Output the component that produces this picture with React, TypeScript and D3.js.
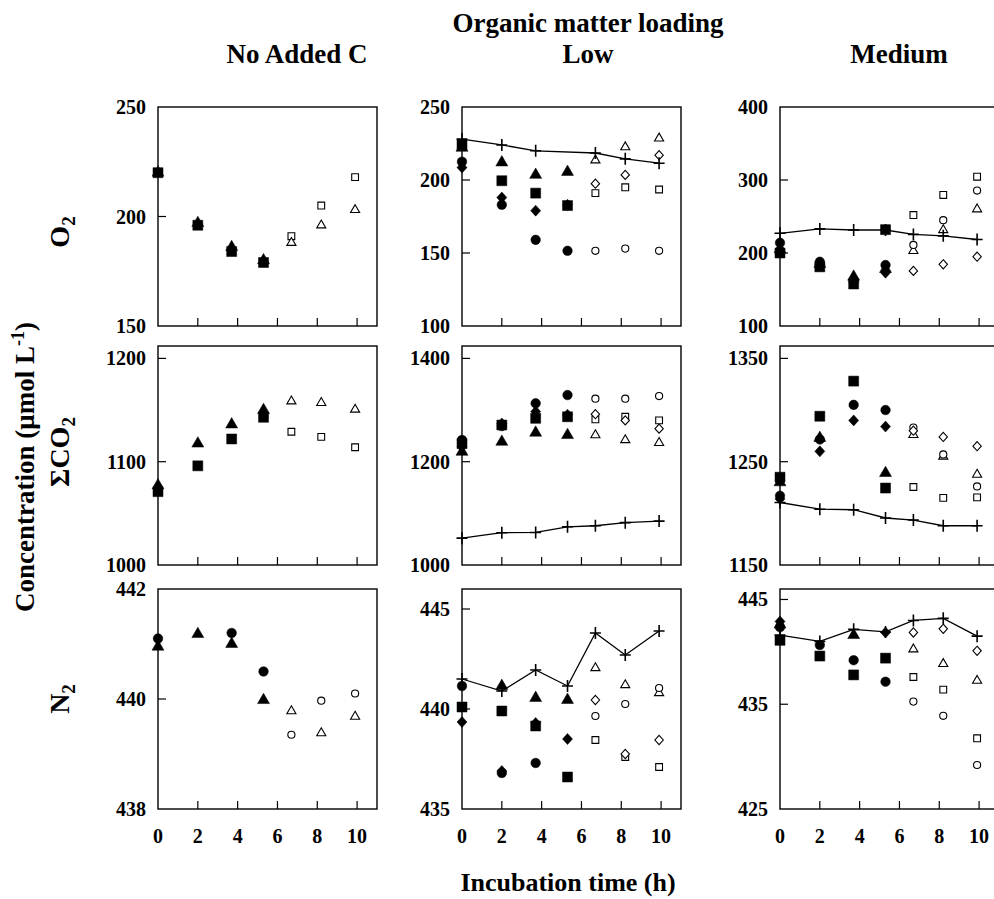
import React, { useEffect, useRef } from "react";
import * as d3 from "d3";

// sampling times (h), shared by every panel
const times = [0, 2, 3.7, 5.3, 6.7, 8.2, 9.9];
const xTicks = [0, 2, 4, 6, 8, 10];
const columnTitles = ["No Added C", "Low", "Medium"];

// O2 - No Added C
const o2NoneSquare = [220, 196, 184, 179, 191, 205, 218];
const o2NoneTriangle = [220, 197, 186, 180, 188, 196, 203];
// O2 - Low
const o2LowSquare = [224, 199.5, 191, 182.5, 191, 195, 193.5];
const o2LowTriangle = [222, 212, 203.5, 205.5, 213.5, 222.5, 228.5];
const o2LowCircle = [212.5, 183, 159, 151.5, 151.5, 153, 151.5];
const o2LowDiamond = [208.5, 188, 179, 183, 197.5, 203.5, 217];
const o2LowPlus = [228, 224, 220, null, 218.5, 214.5, 211.5];
// O2 - Medium
const o2MedSquare = [200, 181, 157.5, 232, 252, 279.5, 304.5];
const o2MedTriangle = [205, 185, 167.5, 178, 203, 231.5, 260];
const o2MedCircle = [214, 188, 162, 183.5, 211, 245, 285.5];
const o2MedDiamond = [205, 184, 160, 173, 175.5, 184.5, 195];
const o2MedPlus = [227, 233, 231.5, 231.5, 225.5, 223.5, 218.5];

// SigmaCO2 - No Added C
const co2NoneSquare = [1071, 1096, 1122, 1143, 1129, 1124, 1114];
const co2NoneTriangle = [1077, 1117.5, 1136, 1150, 1158.5, 1157, 1150.5];
// SigmaCO2 - Low
const co2LowSquare = [1235, 1271, 1284, 1287, 1282, 1287, 1280];
const co2LowTriangle = [1219, 1238.5, 1256, 1251.5, 1251.5, 1242, 1236.5];
const co2LowCircle = [1242, 1269, 1313, 1329, 1322, 1322, 1327];
const co2LowDiamond = [1229, 1274, 1297, 1291, 1292, 1280, 1264];
const co2LowPlus = [1052, 1062.5, 1063, 1074, 1076, 1082, 1085];
// SigmaCO2 - Medium
const co2MedSquare = [1235, 1294, 1328, 1224.5, 1225.5, 1215, 1215.5];
const co2MedTriangle = [1230, 1273, null, 1239, 1276, 1255, 1237.5];
const co2MedCircle = [1217, 1271.5, 1305, 1300, 1283, 1257, 1226];
const co2MedDiamond = [1214, 1260, 1290, 1284, 1280, 1274, 1265];
const co2MedPlus = [1210.5, 1204, 1203.5, 1195.5, 1193.5, 1188, 1188];

// N2 - No Added C
const n2NoneCircle = [441.1, null, 441.2, 440.5, 439.35, 439.97, 440.1];
const n2NoneTriangle = [440.95, 441.18, 441.0, 439.98, 439.78, 439.38, 439.68];
// N2 - Low
const n2LowSquare = [440.1, 439.9, 439.15, 436.6, 438.45, 437.6, 437.1];
const n2LowTriangle = [null, 441.15, 440.55, 440.45, 442.05, 441.2, 440.8];
const n2LowCircle = [441.15, 436.8, 437.3, null, 439.65, 440.25, 441.05];
const n2LowDiamond = [439.35, 436.9, 439.3, 438.5, 440.45, 437.75, 438.45];
const n2LowPlus = [441.5, 440.9, 441.95, 441.15, 443.8, 442.7, 443.9];
// N2 - Medium
const n2MedSquare = [441.1, 439.6, 437.8, 439.4, 437.6, 436.4, 431.75];
const n2MedTriangle = [442.6, null, 441.6, null, 440.25, 438.85, 437.25];
const n2MedCircle = [442.35, 440.65, 439.2, 437.15, 435.25, 433.9, 429.2];
const n2MedDiamond = [442.9, null, null, 441.85, 441.85, 442.2, 440.1];
const n2MedPlus = [441.6, 441.0, 442.15, 441.9, 443.0, 443.2, 441.5];

// axis ranges and tick values per panel
const o2Domains = [[150, 250], [100, 250], [100, 400]];
const o2Ticks = [[150, 200, 250], [100, 150, 200, 250], [100, 200, 300, 400]];
const co2Domains = [[1000, 1212], [1000, 1424], [1150, 1362]];
const co2Ticks = [[1000, 1100, 1200], [1000, 1200, 1400], [1150, 1250, 1350]];
const n2Domains = [[438, 442], [435, 446], [425, 446]];
const n2Ticks = [[438, 440, 442], [435, 440, 445], [425, 435, 445]];

const rows = [
  {
    domains: o2Domains,
    ticks: o2Ticks,
    series: [
      [["square", o2NoneSquare], ["triangle", o2NoneTriangle]],
      [["square", o2LowSquare], ["triangle", o2LowTriangle], ["circle", o2LowCircle], ["diamond", o2LowDiamond], ["plus", o2LowPlus]],
      [["square", o2MedSquare], ["triangle", o2MedTriangle], ["circle", o2MedCircle], ["diamond", o2MedDiamond], ["plus", o2MedPlus]],
    ],
  },
  {
    domains: co2Domains,
    ticks: co2Ticks,
    series: [
      [["square", co2NoneSquare], ["triangle", co2NoneTriangle]],
      [["square", co2LowSquare], ["triangle", co2LowTriangle], ["circle", co2LowCircle], ["diamond", co2LowDiamond], ["plus", co2LowPlus]],
      [["square", co2MedSquare], ["triangle", co2MedTriangle], ["circle", co2MedCircle], ["diamond", co2MedDiamond], ["plus", co2MedPlus]],
    ],
  },
  {
    domains: n2Domains,
    ticks: n2Ticks,
    series: [
      [["circle", n2NoneCircle], ["triangle", n2NoneTriangle]],
      [["square", n2LowSquare], ["triangle", n2LowTriangle], ["circle", n2LowCircle], ["diamond", n2LowDiamond], ["plus", n2LowPlus]],
      [["square", n2MedSquare], ["triangle", n2MedTriangle], ["circle", n2MedCircle], ["diamond", n2MedDiamond], ["plus", n2MedPlus]],
    ],
  },
];

const FONT = "'Liberation Serif', 'Times New Roman', serif";

// marker outline for a shape, filled markers are drawn larger
const markerPath = (shape: string, filled: boolean) => {
  if (shape === "diamond") {
    const w = filled ? 5 : 4.2;
    const h = filled ? 5.5 : 4.6;
    return `M0,${-h}L${w},0L0,${h}L${-w},0Z`;
  }
  const types: any = { square: d3.symbolSquare, circle: d3.symbolCircle, triangle: d3.symbolTriangle };
  const sizes: any = filled ? { square: 100, circle: 72, triangle: 62 } : { square: 46, circle: 40, triangle: 36 };
  return d3.symbol(types[shape], sizes[shape])();
};

const App = () => {
  const svgRef = useRef(null);

  useEffect(() => {
    const svg = d3.select(svgRef.current);
    svg.selectAll("*").remove();

    // panel layout
    const colLeft = [158, 462, 780];
    const panelWidth = 219;
    const rowTop = [107, 346, 589];
    const rowBottom = [326, 565, 809];

    rows.forEach((row, r) => {
      row.series.forEach((panelSeries: any[], c) => {
        const x = d3.scaleLinear().domain([0, 11]).range([colLeft[c], colLeft[c] + panelWidth]);
        const y = d3.scaleLinear().domain(row.domains[c]).range([rowBottom[r], rowTop[r]]);
        const g = svg.append("g");

        // frame
        g.append("rect")
          .attr("x", x(0))
          .attr("y", rowTop[r])
          .attr("width", panelWidth)
          .attr("height", rowBottom[r] - rowTop[r])
          .attr("fill", "none")
          .attr("stroke", "#000")
          .attr("stroke-width", 1.4);

        // x ticks pointing inward
        xTicks.filter((t) => t > 0).forEach((t) => {
          g.append("line")
            .attr("x1", x(t)).attr("x2", x(t))
            .attr("y1", rowBottom[r]).attr("y2", rowBottom[r] - 8)
            .attr("stroke", "#000").attr("stroke-width", 1.2);
        });

        // y ticks and labels
        row.ticks[c].forEach((t) => {
          const yy = y(t);
          if (yy > rowTop[r] + 1 && yy < rowBottom[r] - 1) {
            g.append("line")
              .attr("x1", x(0)).attr("x2", x(0) + 8)
              .attr("y1", yy).attr("y2", yy)
              .attr("stroke", "#000").attr("stroke-width", 1.2);
          }
          g.append("text")
            .attr("x", x(0) - 12)
            .attr("y", yy)
            .attr("dy", "0.35em")
            .attr("text-anchor", "end")
            .attr("font-family", FONT)
            .attr("font-weight", "bold")
            .attr("font-size", 20)
            .text(t);
        });

        // x tick labels below the last row
        if (r === 2) {
          xTicks.forEach((t) => {
            g.append("text")
              .attr("x", x(t))
              .attr("y", 843)
              .attr("text-anchor", "middle")
              .attr("font-family", FONT)
              .attr("font-weight", "bold")
              .attr("font-size", 20)
              .text(t);
          });
        }

        panelSeries.forEach(([shape, values]) => {
          const pts = times
            .map((t, i) => ({ t, v: values[i], i }))
            .filter((d) => d.v !== null);

          if (shape === "plus") {
            const line = d3.line<any>().x((d) => x(d.t)).y((d) => y(d.v));
            g.append("path")
              .attr("d", line(pts))
              .attr("fill", "none")
              .attr("stroke", "#000")
              .attr("stroke-width", 1.3);
            g.selectAll(null)
              .data(pts)
              .enter()
              .append("path")
              .attr("transform", (d) => `translate(${x(d.t)},${y(d.v)})`)
              .attr("d", "M-5.5,0H5.5M0,-6V6")
              .attr("stroke", "#000")
              .attr("stroke-width", 1.6);
            return;
          }

          g.selectAll(null)
            .data(pts)
            .enter()
            .append("path")
            .attr("transform", (d) => `translate(${x(d.t)},${y(d.v)})`)
            .attr("d", (d) => markerPath(shape, d.i <= 3))
            .attr("fill", (d) => (d.i <= 3 ? "#000" : "#fff"))
            .attr("stroke", "#000")
            .attr("stroke-width", (d) => (d.i <= 3 ? 0.5 : 1.1));
        });
      });
    });

    // header
    svg.append("text")
      .attr("x", 588).attr("y", 32)
      .attr("text-anchor", "middle")
      .attr("font-family", FONT).attr("font-weight", "bold").attr("font-size", 27)
      .text("Organic matter loading");
    [297, 588, 899].forEach((cx, i) => {
      svg.append("text")
        .attr("x", cx).attr("y", 63)
        .attr("text-anchor", "middle")
        .attr("font-family", FONT).attr("font-weight", "bold").attr("font-size", 27)
        .text(columnTitles[i]);
    });

    // x axis title
    svg.append("text")
      .attr("x", 568).attr("y", 891)
      .attr("text-anchor", "middle")
      .attr("font-family", FONT).attr("font-weight", "bold").attr("font-size", 26)
      .text("Incubation time (h)");

    // row labels with subscripts
    const rowLabels = [
      { main: "O", sub: "2", y: 232 },
      { main: "\u03A3CO", sub: "2", y: 452 },
      { main: "N", sub: "2", y: 699 },
    ];
    rowLabels.forEach((lab) => {
      const t = svg.append("text")
        .attr("transform", `translate(69,${lab.y}) rotate(-90)`)
        .attr("text-anchor", "middle")
        .attr("font-family", FONT).attr("font-weight", "bold").attr("font-size", 28);
      t.append("tspan").text(lab.main);
      t.append("tspan").attr("font-size", 19).attr("dy", 6).text(lab.sub);
    });

    // y axis title
    const yt = svg.append("text")
      .attr("transform", "translate(34,467) rotate(-90)")
      .attr("text-anchor", "middle")
      .attr("font-family", FONT).attr("font-weight", "bold").attr("font-size", 27);
    yt.append("tspan").text("Concentration (\u03BCmol L");
    yt.append("tspan").attr("font-size", 18).attr("dy", -10).text("-1");
    yt.append("tspan").attr("dy", 10).text(")");
  }, []);

  return (
    <svg
      ref={svgRef}
      width={994}
      height={899}
      style={{ position: "absolute", left: 0, top: 0, background: "#fff" }}
    ></svg>
  );
};

export default App;
